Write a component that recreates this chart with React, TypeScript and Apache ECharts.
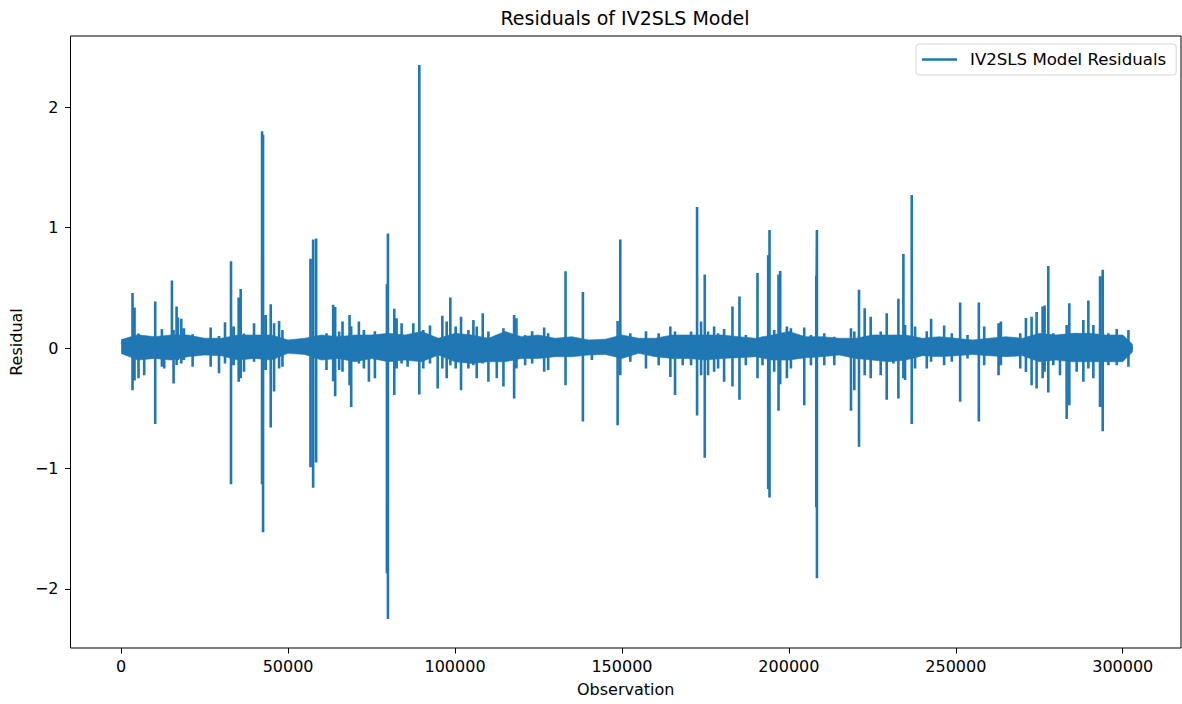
import React, { useEffect, useRef } from "react";
import * as echarts from "echarts";

const SERIES_NAME = "IV2SLS Model Residuals";
const TITLE = "Residuals of IV2SLS Model";
const X_LABEL = "Observation";
const Y_LABEL = "Residual";

const xTicks = [0, 50000, 100000, 150000, 200000, 250000, 300000];
const yTicks = [-2, -1, 0, 1, 2];

// dense noise band envelope (read every 5000 observations)
const bandObs = [
  0, 5000, 10000, 15000, 20000, 25000, 30000, 35000, 40000, 45000,
  50000, 55000, 60000, 65000, 70000, 75000, 80000, 85000, 90000, 95000,
  100000, 105000, 110000, 115000, 120000, 125000, 130000, 135000, 140000, 145000,
  150000, 155000, 160000, 165000, 170000, 175000, 180000, 185000, 190000, 195000,
  200000, 205000, 210000, 215000, 220000, 225000, 230000, 235000, 240000, 245000,
  250000, 255000, 260000, 265000, 270000, 275000, 280000, 285000, 290000, 295000,
  300000, 303000,
];
const bandHi = [
  0.07, 0.11, 0.094, 0.108, 0.108, 0.081, 0.081, 0.108, 0.108, 0.108,
  0.067, 0.081, 0.108, 0.094, 0.108, 0.108, 0.122, 0.108, 0.137, 0.081,
  0.122, 0.108, 0.081, 0.137, 0.094, 0.108, 0.081, 0.094, 0.067, 0.073,
  0.108, 0.081, 0.081, 0.108, 0.108, 0.108, 0.108, 0.094, 0.081, 0.108,
  0.137, 0.094, 0.094, 0.081, 0.081, 0.108, 0.108, 0.108, 0.081, 0.094,
  0.081, 0.067, 0.081, 0.094, 0.081, 0.122, 0.108, 0.122, 0.122, 0.108,
  0.108, 0.03,
];
const bandLo = [
  -0.045, -0.1, -0.086, -0.1, -0.072, -0.058, -0.064, -0.1, -0.086, -0.1,
  -0.044, -0.053, -0.1, -0.086, -0.114, -0.086, -0.114, -0.1, -0.114, -0.058,
  -0.114, -0.128, -0.114, -0.114, -0.086, -0.086, -0.072, -0.072, -0.058, -0.053,
  -0.086, -0.044, -0.072, -0.086, -0.086, -0.1, -0.086, -0.08, -0.072, -0.1,
  -0.1, -0.08, -0.072, -0.058, -0.086, -0.1, -0.114, -0.1, -0.064, -0.072,
  -0.064, -0.053, -0.064, -0.072, -0.064, -0.114, -0.1, -0.114, -0.114, -0.114,
  -0.114, -0.03,
];

// individual spikes: observation, highest and lowest residual around it
const spikeObs = [
  3400, 4000, 5200, 6900, 10200, 12200, 12900, 15200, 15700, 16600,
  17000, 18000, 18800, 21400, 26800, 29300, 31100, 32900, 33700, 35200,
  35800, 36800, 39800, 42200, 42500, 43300, 44800, 45800, 47300, 48300,
  56700, 57500, 58400, 61500, 63500, 64100, 65300, 66300, 68400, 68900,
  71200, 72700, 74200, 76000, 79600, 79900, 81800, 82500, 84000, 85800,
  87500, 89300, 90500, 92500, 94800, 96200, 97500, 98600, 100200, 101800,
  104000, 105500, 106500, 108300, 110000, 112500, 114500, 117700, 118400, 121000,
  123100, 126700, 127900, 133100, 138300, 141000, 148700, 149500, 152500, 157200,
  161000, 164500, 165900, 168200, 170700, 172500, 173700, 174800, 175800, 177600,
  178800, 180600, 183100, 185200, 187100, 190600, 192100, 193800, 194200, 195600,
  196900, 197400, 199400, 200600, 204600, 206600, 208200, 208400, 210600, 213600,
  218600, 219600, 221000, 222700, 224500, 227500, 229300, 231300, 232800, 234300,
  234800, 236800, 237800, 241300, 242600, 246500, 248800, 251300, 253500, 256900,
  258500, 262800, 263500, 269300, 271000, 272700, 274200, 276000, 276600, 277700,
  279200, 281200, 283200, 284000, 286200, 288200, 289700, 291200, 293200, 294000,
  295700, 298200, 301700,
];
const spikeHi = [
  0.456, 0.336, 0.12, 0.08, 0.386, 0.158, 0.1, 0.56, 0.15, 0.345,
  0.253, 0.242, 0.164, 0.114, 0.17, 0.1, 0.214, 0.72, 0.178, 0.42,
  0.49, 0.12, 0.206, 1.8, 1.77, 0.275, 0.364, 0.206, 0.225, 0.15,
  0.74, 0.9, 0.91, 0.122, 0.36, 0.34, 0.137, 0.22, 0.275, 0.18,
  0.22, 0.15, 0.1, 0.14, 0.53, 0.95, 0.325, 0.247, 0.206, 0.108,
  0.206, 2.35, 0.15, 0.186, 0.081, 0.267, 0.22, 0.42, 0.178, 0.26,
  0.15, 0.233, 0.178, 0.289, 0.137, 0.108, 0.164, 0.275, 0.247, 0.108,
  0.14, 0.17, 0.122, 0.637, 0.464, 0.067, 0.225, 0.9, 0.122, 0.14,
  0.122, 0.178, 0.137, 0.108, 0.137, 1.17, 0.22, 0.61, 0.137, 0.178,
  0.122, 0.158, 0.345, 0.428, 0.108, 0.622, 0.094, 0.77, 0.98, 0.15,
  0.61, 0.64, 0.178, 0.164, 0.17, 0.108, 0.6, 0.98, 0.122, 0.094,
  0.164, 0.137, 0.483, 0.33, 0.26, 0.137, 0.289, 0.081, 0.41, 0.78,
  0.192, 1.27, 0.178, 0.14, 0.242, 0.186, 0.122, 0.378, 0.108, 0.378,
  0.178, 0.206, 0.22, 0.122, 0.25, 0.26, 0.3, 0.345, 0.353, 0.68,
  0.122, 0.108, 0.192, 0.372, 0.122, 0.233, 0.395, 0.192, 0.595, 0.65,
  0.122, 0.158, 0.15,
];
const spikeLo = [
  -0.35, -0.27, -0.25, -0.225, -0.63, -0.155, -0.17, -0.1, -0.294, -0.14,
  -0.1, -0.128, -0.1, -0.155, -0.155, -0.21, -0.128, -1.13, -0.142, -0.28,
  -0.25, -0.197, -0.114, -1.13, -1.53, -0.183, -0.66, -0.36, -0.17, -0.155,
  -0.99, -1.16, -0.95, -0.183, -0.275, -0.4, -0.183, -0.197, -0.31, -0.49,
  -0.128, -0.17, -0.28, -0.25, -1.87, -2.25, -0.39, -0.17, -0.128, -0.155,
  -0.086, -0.386, -0.17, -0.128, -0.336, -0.17, -0.25, -0.142, -0.17, -0.35,
  -0.17, -0.142, -0.25, -0.128, -0.28, -0.25, -0.32, -0.42, -0.17, -0.142,
  -0.128, -0.197, -0.183, -0.31, -0.61, -0.1, -0.64, -0.225, -0.114, -0.17,
  -0.142, -0.24, -0.39, -0.142, -0.142, -0.56, -0.225, -0.91, -0.225, -0.197,
  -0.17, -0.28, -0.32, -0.43, -0.142, -0.25, -0.142, -1.17, -1.24, -0.197,
  -0.52, -0.3, -0.25, -0.17, -0.475, -0.142, -1.32, -1.91, -0.142, -0.142,
  -0.52, -0.35, -0.82, -0.225, -0.25, -0.225, -0.43, -0.128, -0.42, -0.25,
  -0.265, -0.63, -0.17, -0.17, -0.114, -0.142, -0.114, -0.447, -0.086, -0.61,
  -0.142, -0.225, -0.142, -0.17, -0.2, -0.31, -0.336, -0.25, -0.197, -0.37,
  -0.142, -0.225, -0.59, -0.475, -0.197, -0.28, -0.17, -0.25, -0.49, -0.69,
  -0.142, -0.142, -0.155,
];

const X_MIN = -15180;
const X_MAX = 317450;
const Y_MIN = -2.49;
const Y_MAX = 2.59;

const COLOR = "#1f77b4";
const FONT = "DejaVu Sans";

function fmtNum(v: number): string {
  return v < 0 ? "\u2212" + String(Math.abs(v)) : String(v);
}

export default function App() {
  const ref = useRef<HTMLDivElement>(null);

  useEffect(() => {
    if (!ref.current) return;
    const chart = echarts.init(ref.current, null, { renderer: "svg" });

    const mainData: number[][] = [[bandObs[0], 0.05]];
    for (let i = 0; i < spikeObs.length; i++) {
      const x = spikeObs[i];
      mainData.push([x, 0], [x, spikeHi[i]], [x, spikeLo[i]], [x, 0]);
    }
    mainData.push([bandObs[bandObs.length - 1], 0]);

    const hiData = bandObs.map((x, i) => [x, bandHi[i]]);
    const loData = bandObs.map((x, i) => [x, bandLo[i]]);

    const bandSeries = (data: number[][], name: string) => ({
      name,
      type: "line",
      data,
      symbol: "none",
      silent: true,
      lineStyle: { color: COLOR, width: 0.6 },
      itemStyle: { color: COLOR },
      areaStyle: { color: COLOR, opacity: 1 },
      z: 2,
    });

    chart.setOption({
      animation: false,
      backgroundColor: "#ffffff",
      title: {
        text: TITLE,
        left: 625,
        top: 8,
        textAlign: "center",
        padding: 0,
        textStyle: { fontFamily: FONT, fontSize: 19, fontWeight: "normal", color: "#000" },
      },
      legend: {
        data: [{ name: SERIES_NAME, icon: "path://M0,0 L35,0 L35,2.4 L0,2.4 Z" }],
        left: 916,
        top: 44,
        orient: "horizontal",
        padding: [7, 10, 7, 6],
        itemWidth: 35,
        itemHeight: 16,
        backgroundColor: "rgba(255,255,255,0.8)",
        borderColor: "#d5d5d5",
        borderWidth: 1,
        borderRadius: 3,
        textStyle: { fontFamily: FONT, fontSize: 16.6, color: "#000", padding: [0, 0, 0, 8] },
      },
      grid: {
        left: 70,
        top: 36,
        width: 1111,
        height: 612,
        show: true,
        borderColor: "#000",
        borderWidth: 1,
        backgroundColor: "transparent",
      },
      xAxis: {
        type: "value",
        min: X_MIN,
        max: X_MAX,
        name: X_LABEL,
        nameLocation: "middle",
        nameGap: 33,
        nameTextStyle: { fontFamily: FONT, fontSize: 16, color: "#000" },
        axisLine: { show: false, onZero: false },
        splitLine: { show: false },
        axisTick: {
          show: true,
          inside: false,
          length: 5.5,
          lineStyle: { color: "#000", width: 1 },
          customValues: xTicks,
        },
        axisLabel: {
          margin: 10,
          fontFamily: FONT,
          fontSize: 16,
          color: "#000",
          customValues: xTicks,
          formatter: (v: number) => fmtNum(v),
        },
      },
      yAxis: {
        type: "value",
        min: Y_MIN,
        max: Y_MAX,
        name: Y_LABEL,
        nameLocation: "middle",
        nameRotate: 90,
        nameGap: 45,
        nameTextStyle: { fontFamily: FONT, fontSize: 16, color: "#000" },
        axisLine: { show: false, onZero: false },
        splitLine: { show: false },
        axisTick: {
          show: true,
          inside: false,
          length: 5.5,
          lineStyle: { color: "#000", width: 1 },
          customValues: yTicks,
        },
        axisLabel: {
          margin: 12,
          fontFamily: FONT,
          fontSize: 16,
          color: "#000",
          customValues: yTicks,
          formatter: (v: number) => fmtNum(v),
        },
      },
      series: [
        bandSeries(hiData, "band-upper"),
        bandSeries(loData, "band-lower"),
        {
          name: SERIES_NAME,
          type: "line",
          data: mainData,
          symbol: "none",
          showSymbol: false,
          lineStyle: { color: COLOR, width: 2.6 },
          itemStyle: { color: COLOR },
          z: 3,
        },
      ],
    });

    return () => chart.dispose();
  }, []);

  return (
    <div
      ref={ref}
      style={{ position: "absolute", left: 0, top: 0, width: 1182, height: 704, background: "#fff" }}
    />
  );
}
